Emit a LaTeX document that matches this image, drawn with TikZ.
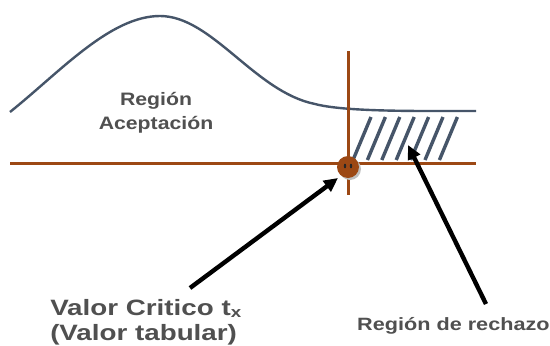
\documentclass[tikz,border=0pt]{standalone}
\usepackage{fontspec}
\setmainfont{Liberation Sans}
\usetikzlibrary{arrows.meta}
\definecolor{curvec}{RGB}{70,85,105}
\definecolor{brownc}{RGB}{156,72,20}
\definecolor{txtc}{RGB}{80,80,80}
\begin{document}
\begin{tikzpicture}[x=1pt,y=-1pt,
  curve/.style={draw=curvec,line width=2.4pt},
  hatchline/.style={draw=curvec,line width=3.4pt},
  axis/.style={draw=brownc,line width=3pt},
  pointer/.style={draw=black,line width=4.4pt,-{Triangle[length=14pt,width=13pt]}},
  lbl/.style={text=txtc,font=\bfseries,inner sep=0pt,xscale=1.18,transform shape}]
\useasboundingbox[fill=white] (0,0) rectangle (550,346);
% curve
\draw[curve] (10,112) .. controls (60,72) and (110,16) .. (160,16)
  .. controls (212,16) and (255,92) .. (315,104)
  .. controls (345,112) and (420,111) .. (476,111);
% hatch
\foreach \i in {0,...,6}{
  \draw[hatchline] ({353+14.4*\i},160) -- ({371+14.4*\i},117);
}
% axes
\coordinate (hl) at (10,163);
\coordinate (hr) at (476,163);
\coordinate (vt) at (348,51);
\coordinate (vb) at (348,195);
\draw[axis] (hl) -- (hr);
\draw[axis] (vt) -- (vb);
% critical point
\fill[black!25] (350,169) circle (11);
\node[circle,fill=brownc,minimum size=22pt,inner sep=0pt] (pt) at (348,167) {};
\fill[black!85] (345,166) ellipse (1.2 and 2.4);
\fill[black!85] (351,166) ellipse (1.2 and 2.4);
% labels
\node[lbl,font=\fontsize{18}{24}\selectfont\bfseries,align=center] (acep) at (156,113) {Región\\Aceptación};
\node[lbl,xscale=1.06,font=\fontsize{22.2}{25}\selectfont\bfseries,align=left,anchor=north west] (crit) at (50,299)
  {Valor Critico t{\fontsize{15}{15}\selectfont\raisebox{-2pt}{x}}\\(Valor tabular)};
\node[lbl,xscale=1.03,font=\fontsize{17.8}{20}\selectfont\bfseries,anchor=base west] (rech) at (357,330) {Región de rechazo};
% arrows
\coordinate (a1s) at (190,288);
\coordinate (a1e) at (338,178);
\coordinate (a2s) at (486,304);
\coordinate (a2e) at (408,145);
\draw[pointer] (a1s) -- (a1e);
\draw[pointer] (a2s) -- (a2e);
\end{tikzpicture}
\end{document}
